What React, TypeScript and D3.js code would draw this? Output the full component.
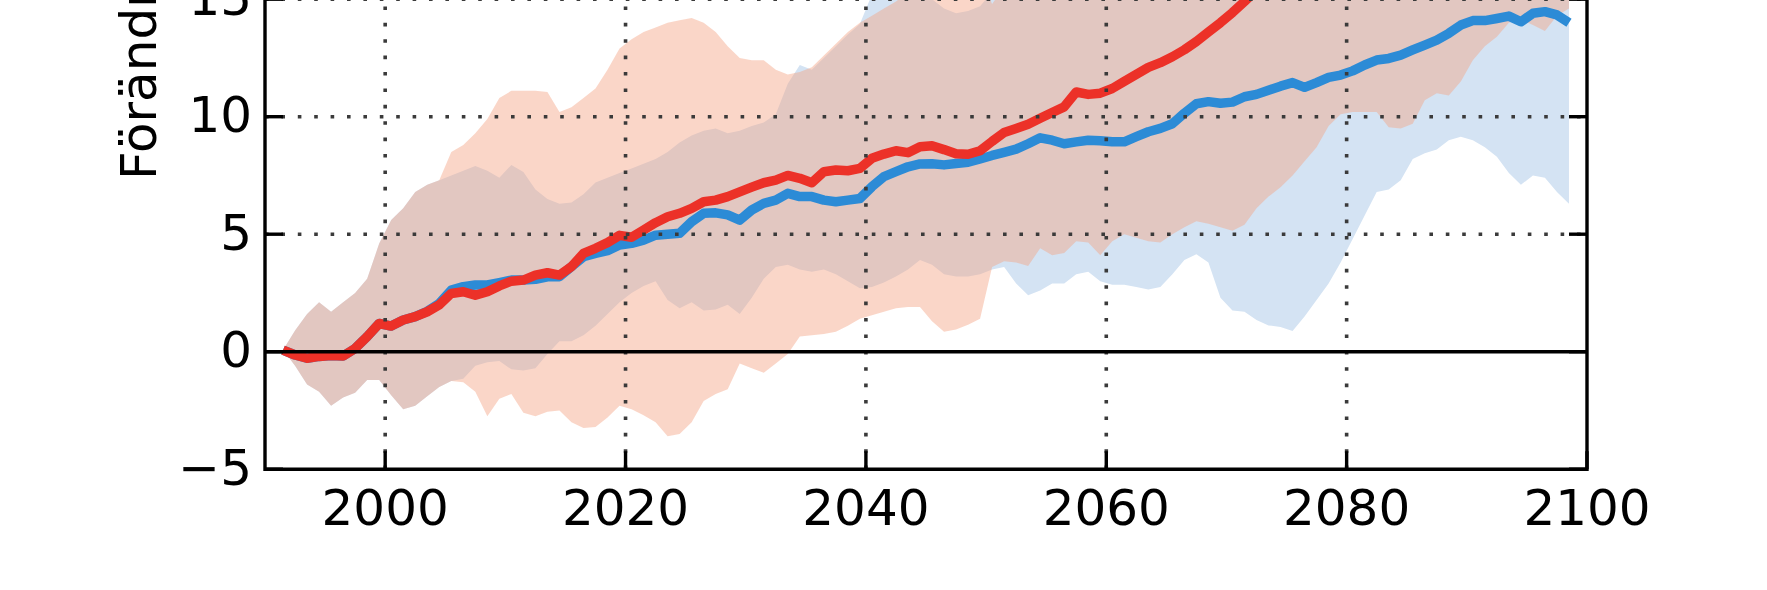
import React from "react";
import * as d3 from "d3";

// ---- data ----
const years = [
  1991.5, 1992.5, 1993.5, 1994.5, 1995.5, 1996.5, 1997.5, 1998.5, 1999.5, 2000.5,
  2001.5, 2002.5, 2003.5, 2004.5, 2005.5, 2006.5, 2007.5, 2008.5, 2009.5, 2010.5,
  2011.5, 2012.5, 2013.5, 2014.5, 2015.5, 2016.5, 2017.5, 2018.5, 2019.5, 2020.5,
  2021.5, 2022.5, 2023.5, 2024.5, 2025.5, 2026.5, 2027.5, 2028.5, 2029.5, 2030.5,
  2031.5, 2032.5, 2033.5, 2034.5, 2035.5, 2036.5, 2037.5, 2038.5, 2039.5, 2040.5,
  2041.5, 2042.5, 2043.5, 2044.5, 2045.5, 2046.5, 2047.5, 2048.5, 2049.5, 2050.5,
  2051.5, 2052.5, 2053.5, 2054.5, 2055.5, 2056.5, 2057.5, 2058.5, 2059.5, 2060.5,
  2061.5, 2062.5, 2063.5, 2064.5, 2065.5, 2066.5, 2067.5, 2068.5, 2069.5, 2070.5,
  2071.5, 2072.5, 2073.5, 2074.5, 2075.5, 2076.5, 2077.5, 2078.5, 2079.5, 2080.5,
  2081.5, 2082.5, 2083.5, 2084.5, 2085.5, 2086.5, 2087.5, 2088.5, 2089.5, 2090.5,
  2091.5, 2092.5, 2093.5, 2094.5, 2095.5, 2096.5, 2097.5, 2098.5,
];

const redMean: (number | null)[] = [
  0.07, -0.14, -0.28, -0.2, -0.16, -0.18, 0.14, 0.64, 1.2, 1.09,
  1.35, 1.49, 1.7, 1.99, 2.48, 2.55, 2.4, 2.55, 2.8, 3.0,
  3.05, 3.26, 3.36, 3.26, 3.62, 4.18, 4.4, 4.64, 4.95, 4.87,
  5.18, 5.49, 5.74, 5.89, 6.1, 6.38, 6.45, 6.6, 6.8, 7.0,
  7.19, 7.3, 7.5, 7.38, 7.19, 7.66, 7.73, 7.7, 7.8, 8.23,
  8.41, 8.55, 8.47, 8.72, 8.76, 8.6, 8.42, 8.4, 8.55, 8.95,
  9.33, 9.5, 9.68, 9.93, 10.18, 10.42, 11.05, 10.95, 11.0, 11.2,
  11.5, 11.8, 12.1, 12.3, 12.55, 12.85, 13.2, 13.6, 14.0, 14.43,
  14.9, 15.4, 15.9, null, null, null, null, null, null, null,
  null, null, null, null, null, null, null, null, null, null,
  null, null, null, null, null, null, null, null,
];

const blueMean: (number | null)[] = [
  0.07, -0.14, -0.28, -0.2, -0.16, -0.18, 0.14, 0.64, 1.2, 1.09,
  1.35, 1.49, 1.72, 2.05, 2.62, 2.77, 2.84, 2.84, 2.94, 3.05,
  3.05, 3.08, 3.19, 3.19, 3.62, 4.04, 4.18, 4.3, 4.54, 4.61,
  4.75, 4.96, 5.0, 5.04, 5.53, 5.89, 5.91, 5.82, 5.6, 6.03,
  6.31, 6.45, 6.74, 6.6, 6.6, 6.45, 6.38, 6.45, 6.52, 7.02,
  7.45, 7.66, 7.87, 7.99, 8.0, 7.95, 8.01, 8.06, 8.2, 8.35,
  8.48, 8.62, 8.85, 9.1, 9.0, 8.85, 8.93, 9.0, 8.98, 8.93,
  8.93, 9.15, 9.36, 9.5, 9.7, 10.15, 10.55, 10.64, 10.57, 10.62,
  10.85, 10.95, 11.13, 11.3, 11.45, 11.25, 11.45, 11.67, 11.77, 11.95,
  12.2, 12.41, 12.48, 12.62, 12.84, 13.05, 13.26, 13.55, 13.9, 14.09,
  14.09, 14.18, 14.28, 14.04, 14.4, 14.47, 14.33, 14.0,
];

const redHigh = [
  0.07, 0.9, 1.6, 2.1, 1.7, 2.1, 2.5, 3.1, 4.6, 5.6,
  6.1, 6.8, 7.1, 7.3, 8.5, 8.8, 9.3, 9.9, 10.8, 11.1,
  11.1, 11.1, 11.05, 10.2, 10.4, 10.8, 11.2, 12.0, 12.9, 13.3,
  13.6, 13.8, 14.0, 14.1, 14.2, 14.0, 13.6, 13.0, 12.5, 12.4,
  12.4, 12.0, 11.8, 11.9, 12.1, 12.6, 13.1, 13.6, 14.0, 14.3,
  14.6, 14.9, 15.3, 16, 16.5, 16.5, 16.5, 16.5, 16, 14.8,
  15.5, 18, 18, 18, 18, 18, 18, 18, 18, 18,
  18, 18, 18, 18, 18, 18, 18, 18, 18, 18,
  18, 18, 18, 18, 18, 18, 18, 18, 18, 18,
  18, 18, 18, 18, 18, 18, 18, 18, 18, 18,
  18, 18, 18, 18, 18, 18, 18, 18,
];

const redLow = [
  0.07, -0.6, -1.4, -1.7, -2.3, -1.95, -1.75, -1.2, -1.2, -1.85,
  -2.45, -2.3, -1.9, -1.5, -1.25, -1.3, -1.7, -2.75, -2.0, -1.8,
  -2.6, -2.75, -2.55, -2.5, -3.0, -3.25, -3.2, -2.8, -2.3, -2.45,
  -2.7, -3.0, -3.6, -3.5, -3.0, -2.1, -1.8, -1.6, -0.5, -0.7,
  -0.9, -0.5, -0.1, 0.65, 0.7, 0.75, 0.85, 1.1, 1.4, 1.55,
  1.7, 1.85, 1.9, 1.9, 1.3, 0.85, 0.95, 1.15, 1.4, 3.6,
  3.85, 3.8, 3.65, 4.4, 4.1, 4.2, 4.7, 4.65, 4.1, 4.7,
  5.0, 4.85, 4.7, 4.65, 5.0, 5.3, 5.55, 5.45, 5.3, 5.15,
  5.4, 6.1, 6.6, 7.0, 7.5, 8.1, 8.7, 9.6, 10.1, 10.2,
  10.2, 10.2, 9.55, 9.5, 9.7, 10.7, 11.0, 10.9, 11.5, 12.4,
  13.0, 13.4, 14.0, 14.15, 13.9, 13.65, 14.3, 14.6,
];

const blueHigh = [
  0.07, 0.9, 1.6, 2.1, 1.7, 2.1, 2.5, 3.1, 4.6, 5.6,
  6.1, 6.8, 7.1, 7.3, 7.5, 7.7, 7.9, 7.7, 7.4, 7.95,
  7.65, 6.9, 6.5, 6.3, 6.35, 6.7, 7.2, 7.4, 7.6, 7.8,
  8.0, 8.2, 8.5, 8.9, 9.2, 9.4, 9.5, 9.3, 9.4, 9.6,
  9.75, 10.1, 11.4, 12.2, 12.0, 12.5, 13.0, 13.5, 13.95, 15.2,
  15.5, 15.0, 15.4, 15.2, 15.0, 14.6, 14.4, 14.5, 14.7, 15.3,
  18, 18, 18, 18, 18, 18, 18, 18, 18, 18,
  18, 18, 18, 18, 18, 18, 18, 18, 18, 18,
  18, 18, 18, 18, 18, 18, 18, 18, 18, 18,
  18, 18, 18, 18, 18, 18, 18, 18, 18, 18,
  18, 18, 18, 18, 18, 18, 18, 18,
];

const blueLow = [
  0.07, -0.6, -1.4, -1.7, -2.3, -1.95, -1.75, -1.2, -1.2, -1.85,
  -2.45, -2.3, -1.9, -1.5, -1.25, -1.15, -0.6, -0.45, -0.4, -0.75,
  -0.8, -0.7, -0.1, 0.45, 0.45, 0.7, 1.1, 1.6, 2.1, 2.5,
  2.8, 3.0, 2.2, 1.85, 2.1, 1.75, 1.8, 2.0, 1.6, 2.3,
  3.1, 3.6, 3.7, 3.5, 3.4, 3.5, 3.3, 3.0, 2.7, 2.75,
  2.95, 3.2, 3.5, 3.9, 3.7, 3.3, 3.2, 3.2, 3.3, 3.5,
  3.6, 2.9, 2.4, 2.6, 2.9, 2.9, 3.3, 3.4, 3.0, 2.85,
  2.85, 2.75, 2.65, 2.75, 3.3, 3.9, 4.15, 3.8, 2.3, 1.75,
  1.7, 1.35, 1.12, 1.05, 0.88, 1.5, 2.2, 2.9, 3.8, 4.8,
  5.8, 6.8, 6.9, 7.3, 8.2, 8.45, 8.6, 9.0, 9.15, 9.0,
  8.7, 8.3, 7.6, 7.1, 7.5, 7.4, 6.8, 6.3,
];

const xTicks = [2000, 2020, 2040, 2060, 2080, 2100];
const yTicks = [-5, 0, 5, 10, 15, 20];
const yGrid = [5, 10, 15, 20];
const xGrid = [2000, 2020, 2040, 2060, 2080];
const yLabel = "Förändring (%)";

// ---- styles ----
const FONT = "DejaVu Sans";
const BLUE_FILL = "#d4e3f3";
const RED_FILL = "#f4a485";
const RED_FILL_OPACITY = 0.45;
const RED_LINE = "#ec3128";
const BLUE_LINE = "#2c8bd6";

export default function App() {
  const W = 1767;
  const H = 590;
  const left = 265;
  const right = 1587;
  const bottom = 469.2;

  const x = d3.scaleLinear().domain([1990, 2100]).range([left, right]);
  const y = d3.scaleLinear().domain([-5, 20]).range([bottom, -118.3]);

  const band = (lo: number[], hi: number[]) =>
    d3
      .area<number>()
      .x((d) => x(d))
      .y0((_, i) => y(lo[i]))
      .y1((_, i) => y(hi[i]))(years) as string;

  const line = (vals: (number | null)[]) =>
    d3
      .line<number>()
      .defined((_, i) => vals[i] != null)
      .x((d) => x(d))
      .y((_, i) => y(vals[i] as number))(years) as string;

  const top = -200;
  const tickLen = 18;
  const axisW = 3.4;

  return (
    <svg
      width={W}
      height={H}
      style={{ position: "absolute", left: 0, top: 0, background: "#fff" }}
      fontFamily={FONT}
    >
      <defs>
        <clipPath id="plotClip">
          <rect x={left} y={top} width={right - left} height={bottom - top} />
        </clipPath>
      </defs>
      <rect x={0} y={0} width={W} height={H} fill="#fff" />

      <g clipPath="url(#plotClip)">
        <path d={band(blueLow, blueHigh)} fill={BLUE_FILL} stroke="none" />
        <path
          d={band(redLow, redHigh)}
          fill={RED_FILL}
          fillOpacity={RED_FILL_OPACITY}
          stroke="none"
        />
        <path
          d={line(blueMean)}
          fill="none"
          stroke={BLUE_LINE}
          strokeWidth={9.5}
          strokeLinejoin="round"
        />
        <path
          d={line(redMean)}
          fill="none"
          stroke={RED_LINE}
          strokeWidth={9.5}
          strokeLinejoin="round"
        />
        {/* grid */}
        {yGrid.map((v) => (
          <path
            key={"gy" + v}
            d={`M${left},${y(v)}H${right}`}
            stroke="#3a3a3a"
            strokeWidth={3.6}
            strokeDasharray="3.6 12.8"
            fill="none"
          />
        ))}
        {xGrid.map((v) => (
          <path
            key={"gx" + v}
            d={`M${x(v)},${bottom}V${top}`}
            stroke="#3a3a3a"
            strokeWidth={3.6}
            strokeDasharray="3.6 12.8"
            fill="none"
          />
        ))}
        {/* zero line */}
        <path d={`M${left},${y(0)}H${right}`} stroke="#000" strokeWidth={3.6} />
      </g>

      {/* ticks */}
      {xTicks.map((v) => (
        <path
          key={"tx" + v}
          d={`M${x(v)},${bottom}v${-tickLen}`}
          stroke="#000"
          strokeWidth={axisW}
        />
      ))}
      {yTicks.map((v) => (
        <g key={"ty" + v}>
          <path d={`M${left},${y(v)}h${tickLen}`} stroke="#000" strokeWidth={axisW} />
          <path d={`M${right},${y(v)}h${-tickLen}`} stroke="#000" strokeWidth={axisW} />
        </g>
      ))}

      {/* spines */}
      <path
        d={`M${left},${top}V${bottom}H${right}V${top}`}
        fill="none"
        stroke="#000"
        strokeWidth={axisW}
        strokeLinejoin="miter"
      />

      {/* tick labels */}
      {xTicks.map((v) => (
        <text
          key={"lx" + v}
          x={x(v)}
          y={524.5}
          fontSize={50}
          textAnchor="middle"
          fill="#000"
        >
          {String(v)}
        </text>
      ))}
      {yTicks.map((v) => (
        <text
          key={"ly" + v}
          x={252}
          y={y(v) + 15.5}
          fontSize={50}
          textAnchor="end"
          fill="#000"
        >
          {v < 0 ? "\u2212" + Math.abs(v) : String(v)}
        </text>
      ))}

      {/* y label */}
      <text
        transform="translate(156,180) rotate(-90)"
        fontSize={50}
        textAnchor="start"
        fill="#000"
      >
        {yLabel}
      </text>
    </svg>
  );
}
